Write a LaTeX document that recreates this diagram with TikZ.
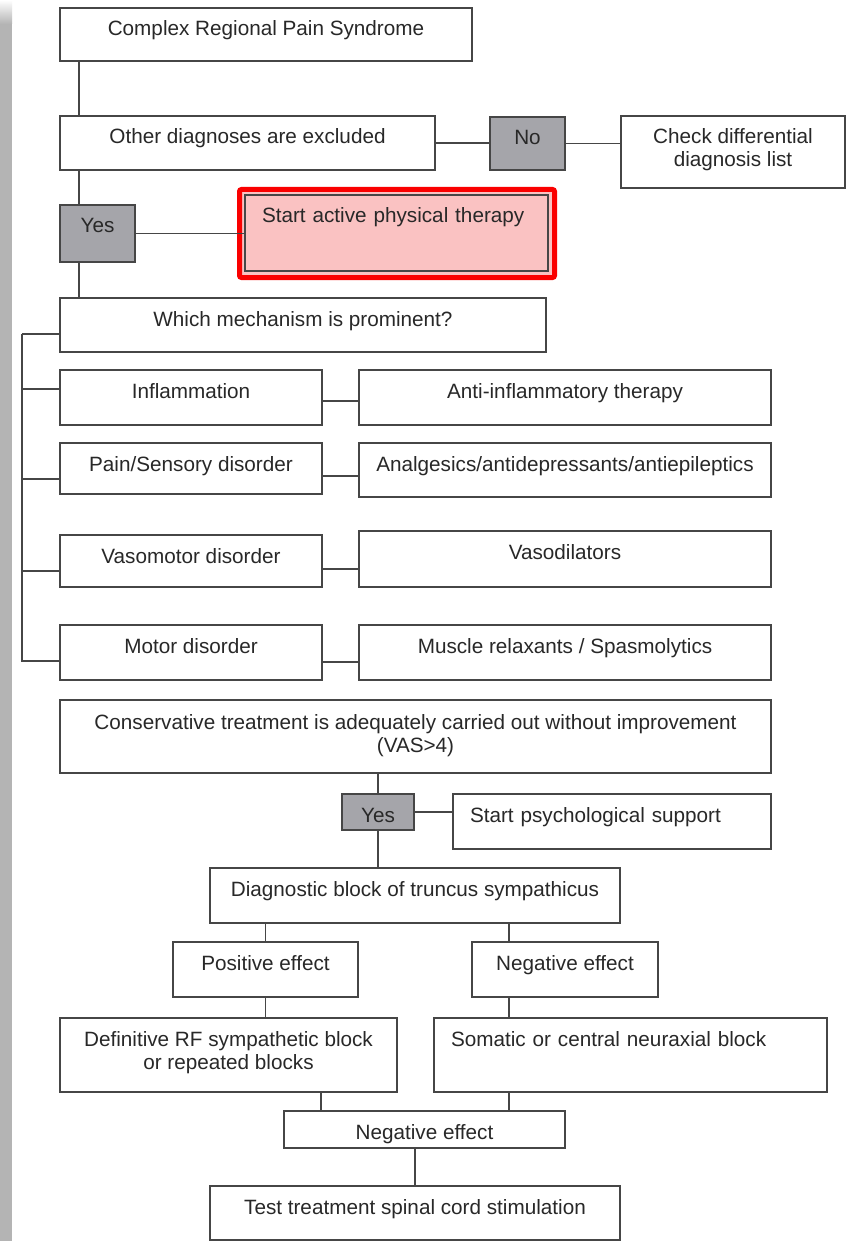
\documentclass[tikz,border=0pt]{standalone}
\usepackage{fontspec}
\setmainfont{Liberation Sans}
\usetikzlibrary{positioning,calc}
\definecolor{LineGray}{RGB}{70,70,70}
\definecolor{TextGray}{RGB}{40,40,40}
\definecolor{BoxGray}{RGB}{165,165,170}
\definecolor{BarGray}{RGB}{180,180,180}
\definecolor{SoftPink}{RGB}{250,194,194}
\definecolor{FrameRed}{RGB}{250,0,0}
\tikzset{
	box/.style={draw=LineGray,line width=1.6pt,fill=white,anchor=north west,outer sep=0pt,
		inner xsep=0pt,inner ysep=0pt,text height=28pt,align=center,text=TextGray,
		font=\fontsize{20.7}{23}\selectfont},
	gbox/.style={box,fill=BoxGray},
	lbox/.style={box,align=left,inner xsep=17pt},
	twoline/.style={text height=51pt},
	boxsize/.style 2 args={minimum width=#1pt,text depth=#2pt},
	link/.style={draw=LineGray,line width=1.6pt},
}

\begin{document}
\begin{tikzpicture}[x={(1pt,0pt)},y={(0pt,-1pt)}]
	\useasboundingbox (0,0) rectangle (849,1241);
	\fill[white] (0,0) rectangle (849,1241);
	\shade[top color=white,bottom color=BarGray] (0,0) rectangle (12,24);
	\fill[BarGray] (0,24) rectangle (12,1241);

	\node[box,boxsize={412}{25}] (crps) at (60,8) {Complex Regional Pain Syndrome};
	\node[box,boxsize={375}{26}] (other) at (60,116) {Other diagnoses are excluded};
	\node[gbox,boxsize={75}{25}] (no) at (490,117) {No};
	\node[box,twoline,boxsize={224}{21}] (check) at (621,116) {Check differential\\diagnosis list};
	\node[gbox,boxsize={75}{29}] (yes1) at (60,205) {Yes};
	\node[draw=FrameRed,fill=SoftPink,line width=5pt,rounded corners=2pt,anchor=north west,
		outer sep=0pt,inner sep=0pt,minimum width=315pt,minimum height=88pt] (ptframe) at (239.5,189.5) {};
	\node[lbox,fill=SoftPink,text width=269pt,boxsize={303}{48}] (pt) at (245,195) {Start active physical therapy};
	\node[box,boxsize={486}{26}] (which) at (60,298) {Which mechanism is prominent?};

	\node[box,boxsize={262}{27}] (inflam) at (60,370) {Inflammation};
	\node[box,boxsize={412}{27}] (antiinf) at (359,370) {Anti-inflammatory therapy};
	\node[box,boxsize={262}{23}] (pain) at (60,443) {Pain/Sensory disorder};
	\node[box,boxsize={412}{26}] (analg) at (359,443) {Analgesics/antidepressants/antiepileptics};
	\node[box,boxsize={262}{24}] (vaso) at (60,535) {Vasomotor disorder};
	\node[box,boxsize={412}{28}] (vasodil) at (359,531) {Vasodilators};
	\node[box,boxsize={262}{27}] (motor) at (60,625) {Motor disorder};
	\node[box,boxsize={412}{27}] (muscle) at (359,625) {Muscle relaxants / Spasmolytics};

	\node[box,twoline,text height=52pt,boxsize={711}{21}] (conserv) at (60,700) {Conservative treatment is adequately carried out without improvement\\(VAS>4)};
	\node[gbox,boxsize={72}{8}] (yes2) at (342,794) {Yes};
	\node[lbox,text width=284pt,boxsize={318}{27}] (psych) at (453,794) {Start psychological support};
	\node[box,boxsize={410}{27}] (diag) at (210,868) {Diagnostic block of truncus sympathicus};
	\node[box,boxsize={185}{27}] (pos) at (173,942) {Positive effect};
	\node[box,boxsize={186}{27}] (neg1) at (472,942) {Negative effect};
	\node[box,twoline,boxsize={337}{23}] (defin) at (60,1018) {Definitive RF sympathetic block\\or repeated blocks};
	\node[lbox,text width=359pt,boxsize={393}{46}] (somatic) at (434,1018) {Somatic or central neuraxial block};
	\node[box,boxsize={281}{9}] (neg2) at (284,1111) {Negative effect};
	\node[box,boxsize={410}{26}] (test) at (210,1186) {Test treatment spinal cord stimulation};

	\foreach \a/\b in {crps/other,other/yes1,yes1/which}
	\draw[link] ([xshift=19pt]\a.south west) -- ([xshift=19pt]\b.north west);
	\draw[link] (other.east) -- (other.east -| no.west);
	\draw[link] (no.east) -- (no.east -| check.west);
	\draw[link] (yes1.east) -- (yes1.east -| pt.west);

	\coordinate (brTop) at (22,334);
	\coordinate (brBot) at (22,662);
	\draw[link] (brTop) -- (brBot);
	\foreach \n/\d in {which/36,inflam/19,pain/36,vaso/36,motor/36}
	\draw[link] ([yshift=-\d pt]\n.north west) -- ([yshift=-\d pt]\n.north west -| brTop);
	\foreach \a/\b/\d in {inflam/antiinf/31,pain/analg/33,vaso/vasodil/34,motor/muscle/37}
	\draw[link] ([yshift=-\d pt]\a.north east) -- ([yshift=-\d pt]\a.north east -| \b.west);

	\draw[link] (conserv.south -| yes2.north) -- (yes2.north);
	\draw[link] (yes2.east) -- (yes2.east -| psych.west);
	\draw[link] (yes2.south) -- (yes2.south |- diag.north);
	\draw[link] (pos.north |- diag.south) -- (pos.north);
	\draw[link] ([xshift=37pt]neg1.north west) -- ([xshift=37pt]neg1.north west |- diag.south);
	\draw[link] (pos.south) -- (pos.south |- defin.north);
	\draw[link] ([xshift=37pt]neg1.south west) -- ([xshift=37pt]neg1.south west |- somatic.north);
	\draw[link] ([xshift=261pt]defin.south west) -- ([xshift=261pt]defin.south west |- neg2.north);
	\draw[link] ([xshift=75pt]somatic.south west) -- ([xshift=75pt]somatic.south west |- neg2.north);
	\draw[link] (test.north |- neg2.south) -- (test.north);
\end{tikzpicture}
\end{document}
